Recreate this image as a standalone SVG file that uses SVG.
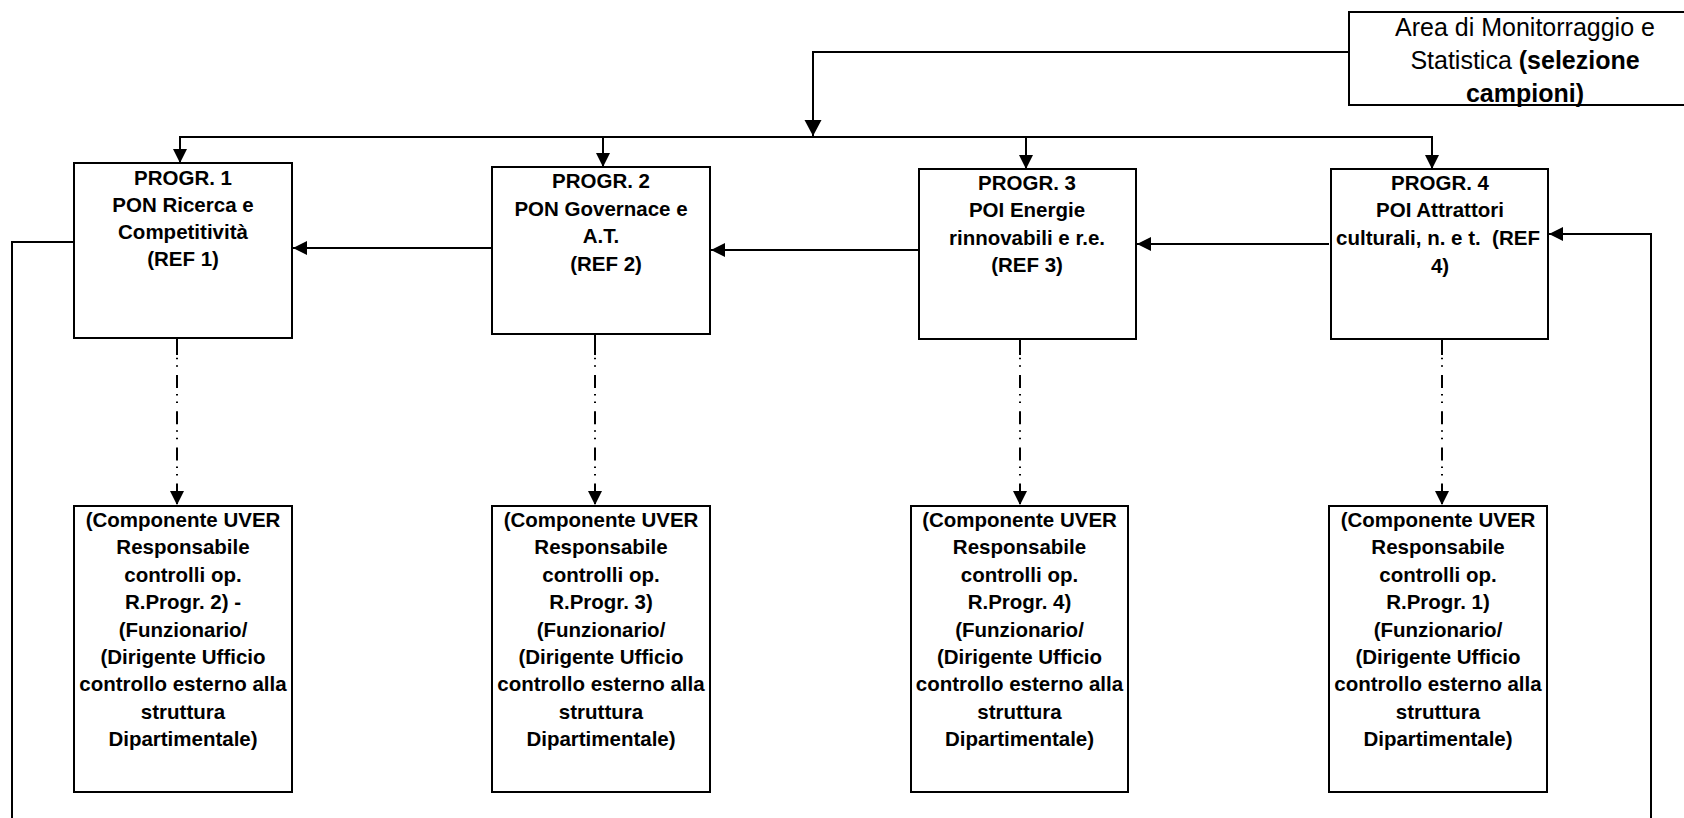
<svg xmlns="http://www.w3.org/2000/svg" width="1684" height="818" viewBox="0 0 1684 818">
<style>
.box{fill:#fff;stroke:#000;stroke-width:2}
.ln{fill:none;stroke:#000;stroke-width:2}
.dd{fill:none;stroke:#000;stroke-width:2;stroke-dasharray:13 6 1.5 6 1.5 8.2;stroke-dashoffset:16.2}
.t{font-family:"Liberation Sans",Arial,sans-serif;font-size:20.5px;font-weight:bold;text-anchor:middle;fill:#000}
.a{font-family:"Liberation Sans",Arial,sans-serif;font-size:25px;text-anchor:middle;fill:#000}
</style>
<defs>
<marker id="ah" markerUnits="userSpaceOnUse" markerWidth="15" markerHeight="15" refX="14" refY="7.5" orient="auto" viewBox="0 0 15 15">
<path d="M0,0.5 L14,7.5 L0,14.5 z" fill="#000"/>
</marker>
<marker id="ahb" markerUnits="userSpaceOnUse" markerWidth="17" markerHeight="18" refX="16" refY="9" orient="auto" viewBox="0 0 17 18">
<path d="M0,0.5 L16,9 L0,17.5 z" fill="#000"/>
</marker>
</defs>
<rect width="1684" height="818" fill="#fff"/>

<g id="connectors">
<path class="ln" d="M1349,52 H813 V136" marker-end="url(#ahb)"/>
<path class="ln" d="M180,163 V137 H1432 V169" marker-end="url(#ah)"/>
<path class="ln" d="M180,137 V163" marker-end="url(#ah)"/>
<path class="ln" d="M603,137 V167" marker-end="url(#ah)"/>
<path class="ln" d="M1026,137 V169" marker-end="url(#ah)"/>
<path class="ln" d="M492,248 H293" marker-end="url(#ah)"/>
<path class="ln" d="M919,250 H711" marker-end="url(#ah)"/>
<path class="ln" d="M1329,244 H1137" marker-end="url(#ah)"/>
<path class="ln" d="M74,242 H12 V818"/>
<path class="ln" d="M1651,818 V234 H1549" marker-end="url(#ah)"/>
<path class="ln" d="M177,337 V355"/>
<path class="dd" d="M177,355 V505" marker-end="url(#ah)"/>
<path class="ln" d="M595,334 V355"/>
<path class="dd" d="M595,355 V505" marker-end="url(#ah)"/>
<path class="ln" d="M1020,338 V355"/>
<path class="dd" d="M1020,355 V505" marker-end="url(#ah)"/>
<path class="ln" d="M1442,338 V355"/>
<path class="dd" d="M1442,355 V505" marker-end="url(#ah)"/>
</g>

<g id="area">
<rect class="box" x="1349" y="12" width="360" height="93"/>
<text class="a" x="1525" y="36">Area di Monitorraggio e</text>
<text class="a" x="1525" y="69">Statistica <tspan font-weight="bold">(selezione</tspan></text>
<text class="a" x="1525" y="102" font-weight="bold">campioni)</text>
</g>

<g id="progr1">
<rect class="box" x="74" y="163" width="218" height="175"/>
<text class="t" x="183" y="185">PROGR. 1</text>
<text class="t" x="183" y="212">PON Ricerca e</text>
<text class="t" x="183" y="239">Competitività</text>
<text class="t" x="183" y="266">(REF 1)</text>
</g>

<g id="progr2">
<rect class="box" x="492" y="167" width="218" height="167"/>
<text class="t" x="601" y="188">PROGR. 2</text>
<text class="t" x="601" y="215.5">PON Governace e</text>
<text class="t" x="601" y="243">A.T.</text>
<text class="t" x="606" y="271">(REF 2)</text>
</g>

<g id="progr3">
<rect class="box" x="919" y="169" width="217" height="170"/>
<text class="t" x="1027" y="190">PROGR. 3</text>
<text class="t" x="1027" y="217">POI Energie</text>
<text class="t" x="1027" y="244.5">rinnovabili e r.e.</text>
<text class="t" x="1027" y="272">(REF 3)</text>
</g>

<g id="progr4">
<rect class="box" x="1331" y="169" width="217" height="170"/>
<text class="t" x="1440" y="190">PROGR. 4</text>
<text class="t" x="1440" y="217">POI Attrattori</text>
<text class="t" x="1438" y="245" xml:space="preserve">culturali, n. e t.  (REF</text>
<text class="t" x="1440" y="273">4)</text>
</g>

<g id="uver1">
<rect class="box" x="74" y="506" width="218" height="286"/>
<text class="t" x="183" y="527">(Componente UVER</text>
<text class="t" x="183" y="554.4">Responsabile</text>
<text class="t" x="183" y="581.8">controlli op.</text>
<text class="t" x="183" y="609.2">R.Progr. 2) -</text>
<text class="t" x="183" y="636.6">(Funzionario/</text>
<text class="t" x="183" y="664">(Dirigente Ufficio</text>
<text class="t" x="183" y="691.4">controllo esterno alla</text>
<text class="t" x="183" y="718.8">struttura</text>
<text class="t" x="183" y="746.2">Dipartimentale)</text>
</g>

<g id="uver2">
<rect class="box" x="492" y="506" width="218" height="286"/>
<text class="t" x="601" y="527">(Componente UVER</text>
<text class="t" x="601" y="554.4">Responsabile</text>
<text class="t" x="601" y="581.8">controlli op.</text>
<text class="t" x="601" y="609.2">R.Progr. 3)</text>
<text class="t" x="601" y="636.6">(Funzionario/</text>
<text class="t" x="601" y="664">(Dirigente Ufficio</text>
<text class="t" x="601" y="691.4">controllo esterno alla</text>
<text class="t" x="601" y="718.8">struttura</text>
<text class="t" x="601" y="746.2">Dipartimentale)</text>
</g>

<g id="uver3">
<rect class="box" x="911" y="506" width="217" height="286"/>
<text class="t" x="1019.5" y="527">(Componente UVER</text>
<text class="t" x="1019.5" y="554.4">Responsabile</text>
<text class="t" x="1019.5" y="581.8">controlli op.</text>
<text class="t" x="1019.5" y="609.2">R.Progr. 4)</text>
<text class="t" x="1019.5" y="636.6">(Funzionario/</text>
<text class="t" x="1019.5" y="664">(Dirigente Ufficio</text>
<text class="t" x="1019.5" y="691.4">controllo esterno alla</text>
<text class="t" x="1019.5" y="718.8">struttura</text>
<text class="t" x="1019.5" y="746.2">Dipartimentale)</text>
</g>

<g id="uver4">
<rect class="box" x="1329" y="506" width="218" height="286"/>
<text class="t" x="1438" y="527">(Componente UVER</text>
<text class="t" x="1438" y="554.4">Responsabile</text>
<text class="t" x="1438" y="581.8">controlli op.</text>
<text class="t" x="1438" y="609.2">R.Progr. 1)</text>
<text class="t" x="1438" y="636.6">(Funzionario/</text>
<text class="t" x="1438" y="664">(Dirigente Ufficio</text>
<text class="t" x="1438" y="691.4">controllo esterno alla</text>
<text class="t" x="1438" y="718.8">struttura</text>
<text class="t" x="1438" y="746.2">Dipartimentale)</text>
</g>
</svg>
